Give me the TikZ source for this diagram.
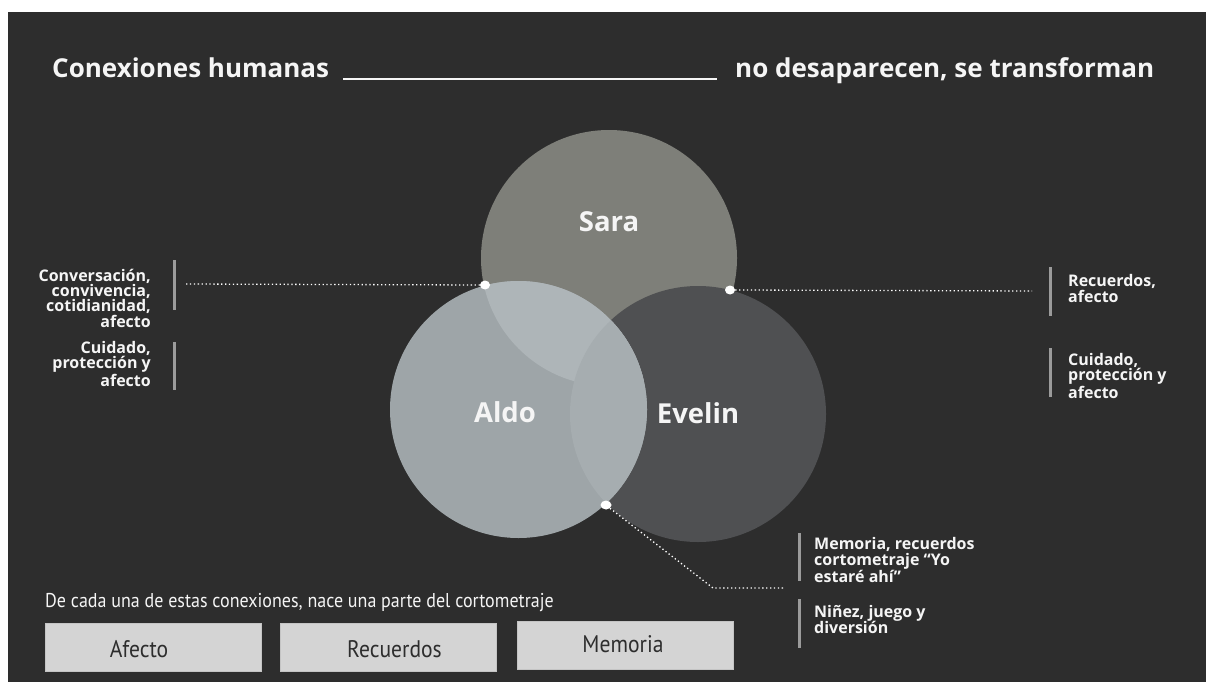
\documentclass[tikz,border=0pt]{standalone}
\usepackage{fontspec}
\setmainfont{Open Sans}
\newfontfamily\condf[FakeStretch=0.9]{PT Sans}
\usetikzlibrary{shapes.geometric}
\definecolor{bg}{HTML}{2D2D2D}
\definecolor{saracol}{HTML}{7E7F79}
\definecolor{aldocol}{HTML}{9EA5A8}
\definecolor{evelincol}{HTML}{4F5052}
\definecolor{sacol}{HTML}{AEB5B8}
\definecolor{aecol}{HTML}{A6ADB0}
\definecolor{barcol}{HTML}{9B9B9B}
\definecolor{boxcol}{HTML}{D4D4D4}
\definecolor{boxline}{HTML}{C4C4C4}
\definecolor{txt}{HTML}{F5F5F5}
\tikzset{
  titlet/.style={inner sep=0, text=txt, font=\fontsize{26}{28}\selectfont\bfseries},
  namet/.style={inner sep=0, text=txt, font=\fontsize{27.5}{30}\selectfont\bfseries, anchor=base},
  labl/.style={inner sep=0, text=txt, font=\fontsize{16}{15.3}\selectfont\bfseries},
  labb/.style={inner sep=0, text=txt, font=\fontsize{16}{16.5}\selectfont\bfseries},
  sbar/.style={line width=3pt, barcol},
  dotn/.style={ellipse, fill=white, inner sep=0, minimum width=10pt, minimum height=9pt},
  dotline/.style={white, line width=1.3pt, dash pattern=on 1.3pt off 2.6pt},
  boxn/.style={rectangle, fill=boxcol, draw=boxline, line width=0.8pt, minimum width=216pt, minimum height=48pt, inner sep=0},
  boxt/.style={inner sep=0, text=bg, anchor=base, font=\condf\fontsize{24}{26}\selectfont}
}
\begin{document}
\begin{tikzpicture}[x=1pt,y=-1pt]
\useasboundingbox (0,0) rectangle (1206,682);
\fill[white] (0,0) rectangle (1206,682);
\fill[bg] (8,12) rectangle (1206,682);

% title
\node[titlet, anchor=base west] (t1) at (52,78) {Conexiones humanas};
\node[titlet, anchor=base west] (t2) at (735,78) {no desaparecen, se transforman};
\draw[txt, line width=2pt] (343,79) -- (717,79);

% circles
\fill[saracol] (609,258) circle [radius=128];
\fill[evelincol] (698,414) circle [radius=128];
\fill[aldocol] (518.5,409.5) circle [radius=128.5];
\begin{scope}
  \clip (518.5,409.5) circle [radius=128.5];
  \fill[sacol] (609,258) circle [radius=128];
  \fill[aecol] (698,414) circle [radius=128];
\end{scope}

\node[namet] (sara) at (609,231) {Sara};
\node[namet] (aldo) at (505,422) {Aldo};
\node[namet] (evelin) at (698,423) {Evelin};

% connectors
\coordinate (le) at (185,284);
\coordinate (re) at (1032,291);
\coordinate (bk) at (713,588);
\coordinate (be) at (784,588);
\node[dotn] (dl) at (485,285) {};
\node[dotn] (dr) at (730,290) {};
\node[dotn, minimum width=11pt] (db) at (606,505) {};
\draw[dotline] (dl.west) -- (le);
\draw[dotline] (dr.east) -- (re);
\draw[dotline] (db.south east) -- (bk) -- (be);

% left labels (anchor at baseline of last line)
\draw[sbar] (174,260) -- (174,310);
\node[labl, anchor=base east, align=right] (l1) at (151,327) {Conversación,\\convivencia,\\cotidianidad,\\afecto};
\draw[sbar] (174,342) -- (174,390);
\node[labl, anchor=base east, align=right] (l2) at (151,386) {Cuidado,\\protección y\\afecto};

% right labels
\draw[sbar] (1050,267) -- (1050,316);
\node[labl, anchor=base west, align=left] (r1) at (1068,302) {Recuerdos,\\afecto};
\draw[sbar] (1050,348) -- (1050,397);
\node[labl, anchor=base west, align=left] (r2) at (1068,398) {Cuidado,\\protección y\\afecto};

% bottom labels
\draw[sbar] (799,533) -- (799,581);
\node[labb, anchor=base west, align=left] (b1) at (814,582) {Memoria, recuerdos\\cortometraje “Yo\\estaré ahí”};
\draw[sbar] (799,599) -- (799,648);
\node[labb, anchor=base west, align=left] (b2) at (814,633.5) {Niñez, juego y\\diversión};

% bottom text and boxes
\node[inner sep=0, text=txt, anchor=base west, font=\condf\fontsize{20}{22}\selectfont] (de) at (45,607) {De cada una de estas conexiones, nace una parte del cortometraje};
\node[boxn] (bx1) at (153,647) {};
\node[boxn] (bx2) at (388.5,647) {};
\node[boxn] (bx3) at (625,645) {};
\node[boxt] (bt1) at ([xshift=-14pt,yshift=-10pt]bx1.center) {Afecto};
\node[boxt] (bt2) at ([xshift=6pt,yshift=-10pt]bx2.center) {Recuerdos};
\node[boxt] (bt3) at ([xshift=-2pt,yshift=-7pt]bx3.center) {Memoria};
\end{tikzpicture}
\end{document}
